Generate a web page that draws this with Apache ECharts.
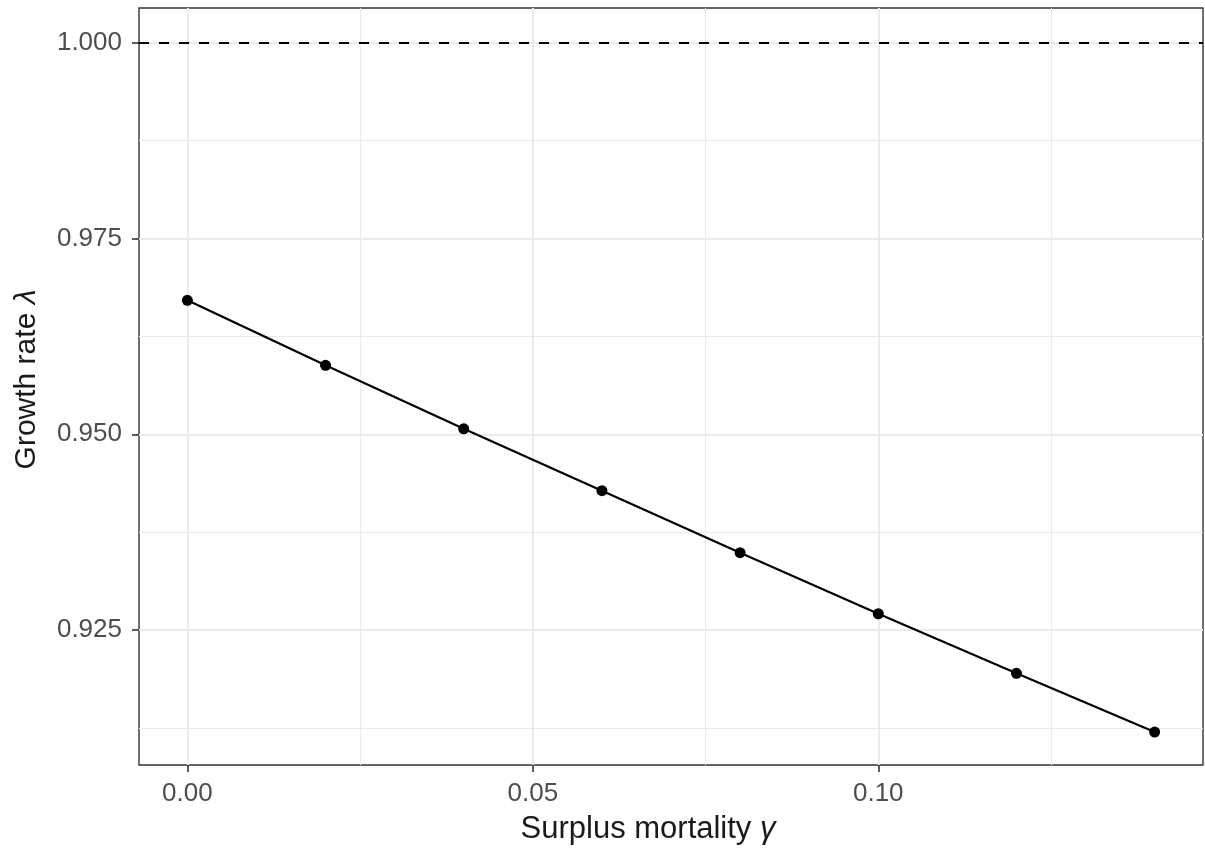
<!DOCTYPE html>
<html>
<head>
<meta charset="utf-8">
<script src="https://cdn.jsdelivr.net/npm/echarts@6/dist/echarts.min.js"></script>
<style>
  html, body { margin: 0; padding: 0; background: #fff; }
  #main { width: 1205px; height: 853px; }
</style>
</head>
<body>
<div id="main"></div>
<script>
// surplus mortality (x) and growth rate lambda (y)
var mortality = [0.00, 0.02, 0.04, 0.06, 0.08, 0.10, 0.12, 0.14];
var growthRate = [0.9671, 0.9588, 0.9507, 0.9428, 0.9349, 0.9271, 0.9195, 0.9120];

// axis ticks / grid lines
var xTicks = [0.00, 0.05, 0.10];
var xMinor = [0.025, 0.075, 0.125];
var yTicks = [0.925, 0.950, 0.975, 1.000];
var yMinor = [0.9125, 0.9375, 0.9625, 0.9875];
var refLine = 1.0;

var chart = echarts.init(document.getElementById('main'));

var FONT = '"Liberation Sans", Arial, sans-serif';

function gridLines(vals, key, width) {
  return vals.map(function (v) {
    var o = { lineStyle: { color: '#ebebeb', width: width, type: 'solid' } };
    o[key] = v;
    return o;
  });
}

var gridData = []
  .concat(gridLines(xMinor, 'xAxis', 1))
  .concat(gridLines(yMinor, 'yAxis', 1))
  .concat(gridLines(xTicks, 'xAxis', 2))
  .concat(gridLines(yTicks, 'yAxis', 2));

var pts = mortality.map(function (x, i) { return [x, growthRate[i]]; });

function titleStyle(size, pad) {
  return {
    fontFamily: FONT, fontSize: size, color: '#1a1a1a', padding: pad,
    rich: { i: { fontFamily: FONT, fontSize: size, color: '#1a1a1a', fontStyle: 'italic' } }
  };
}

chart.setOption({
  animation: false,
  backgroundColor: '#ffffff',
  grid: {
    left: 139, right: 2, top: 8, bottom: 88,
    containLabel: false,
    outerBoundsMode: 'none',
    show: true,
    borderColor: '#333333',
    borderWidth: 1.4,
    backgroundColor: '#ffffff'
  },
  xAxis: {
    type: 'value',
    min: -0.007,
    max: 0.147,
    name: 'Surplus mortality {i|γ}',
    nameLocation: 'middle',
    nameGap: 49,
    nameTextStyle: titleStyle(31, [0, 46, 0, 0]),
    axisLine: { show: false, onZero: false },
    axisTick: {
      show: true, length: 7, customValues: xTicks,
      lineStyle: { color: '#333333', width: 1.6 }
    },
    axisLabel: {
      customValues: xTicks,
      margin: 16,
      fontFamily: FONT, fontSize: 26, color: '#4d4d4d',
      formatter: function (v) { return v.toFixed(2); }
    },
    splitLine: { show: false }
  },
  yAxis: {
    type: 'value',
    min: 0.9078,
    max: 1.0044,
    name: 'Growth rate {i|λ}',
    nameLocation: 'middle',
    nameGap: 97,
    nameTextStyle: titleStyle(30, [0, 0, 0, 14]),
    axisLine: { show: false, onZero: false },
    axisTick: {
      show: true, length: 7, customValues: yTicks,
      lineStyle: { color: '#333333', width: 1.6 }
    },
    axisLabel: {
      customValues: yTicks,
      margin: 17,
      fontFamily: FONT, fontSize: 26, color: '#4d4d4d',
      formatter: function (v) { return v.toFixed(3); }
    },
    splitLine: { show: false }
  },
  series: [
    {
      // panel grid lines
      type: 'line',
      data: [],
      z: 1,
      silent: true,
      markLine: {
        z: 1,
        silent: true,
        precision: 6,
        symbol: ['none', 'none'],
        label: { show: false },
        emphasis: { disabled: true },
        data: gridData
      }
    },
    {
      // reference line at lambda = 1
      type: 'line',
      data: [],
      z: 2,
      silent: true,
      markLine: {
        z: 2,
        silent: true,
        precision: 6,
        symbol: ['none', 'none'],
        label: { show: false },
        emphasis: { disabled: true },
        lineStyle: { color: '#000000', width: 2, type: [10, 10] },
        data: [{ yAxis: refLine }]
      }
    },
    {
      type: 'line',
      data: pts,
      z: 10,
      symbol: 'circle',
      symbolSize: 11,
      showSymbol: true,
      itemStyle: { color: '#000000' },
      lineStyle: { color: '#000000', width: 2.2 }
    }
  ]
});
</script>
</body>
</html>
